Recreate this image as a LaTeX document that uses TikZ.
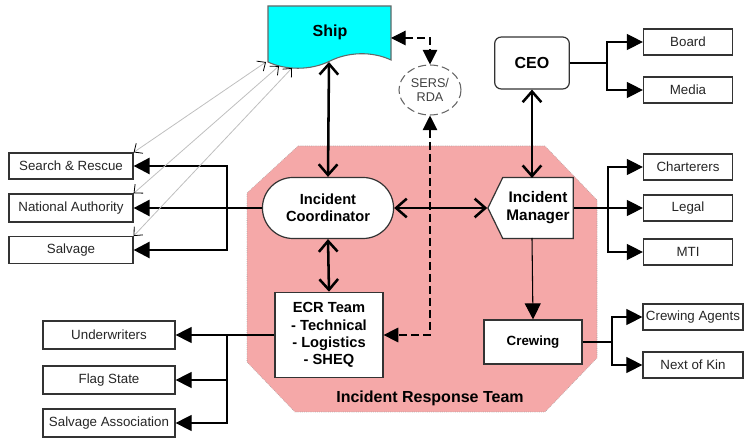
\documentclass[tikz,border=0pt]{standalone}
\usepackage{fontspec}
\setmainfont{Liberation Sans}
\usetikzlibrary{arrows.meta,shapes.geometric,shapes.symbols,shapes.misc}

\definecolor{shipcyan}{RGB}{0,255,255}
\definecolor{irtpink}{RGB}{245,168,168}

\tikzset{
  party/.style={draw=black!80, line width=0.9pt, fill=white, minimum width=66.75pt,
    minimum height=19.5pt, inner sep=1pt, text=black!85,
    font=\fontsize{10}{12}\selectfont},
  key/.style={draw=black!80, line width=0.9pt, fill=white, align=center,
    font=\bfseries\fontsize{11}{13}\selectfont},
  link/.style={line width=0.8pt, -{Triangle[length=12pt,width=12pt]}},
  hot/.style={line width=1.9pt, -{Triangle[length=12pt,width=12pt]}},
  both/.style={line width=1.9pt,
    {Straight Barb[length=8pt,width=14pt]}-{Straight Barb[length=8pt,width=14pt]}},
  radio/.style={line width=0.8pt, dash pattern=on 6pt off 3pt,
    {Triangle[length=11pt,width=11pt]}-{Triangle[length=11pt,width=11pt]}},
  sat/.style={draw=black!25, line width=0.6pt,
    {Straight Barb[length=5pt,width=9pt,color=black]}-{Straight Barb[length=5pt,width=9pt,color=black]}}
}

\begin{document}
\begin{tikzpicture}[x=0.75pt, y=-0.75pt]
\useasboundingbox (0,0) rectangle (744,441);

% incident response team area
\fill[irtpink, draw=black!40, densely dotted]
  (298,146) -- (545,146) -- (597,200) -- (597,358) -- (545,412)
  -- (295,412) -- (247,362) -- (247,193) -- cycle;
\node[font=\bfseries\fontsize{12}{14}\selectfont] (irt) at (430,398) {Incident Response Team};

% ship
\draw[draw=black!60, line width=0.8pt, fill=shipcyan]
  (268,6) -- (391,6) -- (391,60)
  .. controls (372,51) and (348,52) .. (330,61)
  .. controls (310,71) and (285,70) .. (268,62) -- cycle;
\node[font=\bfseries\fontsize{12}{14}\selectfont] (ship) at (330,32) {Ship};
\coordinate (shipS) at (329,62);
\coordinate (shipE) at (391,38);
\coordinate (shipA) at (266,62);
\coordinate (shipB) at (279,66);
\coordinate (shipC) at (292,68);

% SERS/RDA
\node[ellipse, draw=black!60, dash pattern=on 6pt off 3pt, line width=0.8pt,
  minimum width=46.5pt, minimum height=37.5pt, inner sep=0pt, align=center,
  text=black!75, font=\fontsize{9.5}{11}\selectfont] (sers) at (430,90) {SERS/\\RDA};

% management
\node[key, rounded corners=5pt, minimum width=56pt, minimum height=39pt,
  font=\bfseries\fontsize{12}{14}\selectfont] (ceo) at (532,63) {CEO};
\node[party] (board) at (688,42) {Board};
\node[party] (media) at (688,90) {Media};

% response team
\node[key, rounded rectangle, minimum width=105pt, minimum height=45.75pt]
  (coord) at (328,208) {Incident\\Coordinator};
\node[key, signal, signal to=west, signal from=nowhere, signal pointer angle=128,
  minimum width=64pt, minimum height=45.75pt, inner sep=1pt,
  font=\bfseries\fontsize{11.5}{13.5}\selectfont]
  (mgr) at (538,208) {Incident\\Manager};
\node[key, minimum width=81pt, minimum height=64pt, inner sep=2pt]
  (ecr) at (329,335) {ECR Team\\- Technical\\- Logistics\\- SHEQ};
\node[key, minimum width=73.5pt, minimum height=33pt,
  font=\bfseries\fontsize{10}{12}\selectfont] (crew) at (533,342) {Crewing};

% outside parties
\node[party, minimum width=93pt] (sar) at (71,166) {Search \& Rescue};
\node[party, minimum width=93pt, minimum height=21pt] (natauth) at (71,208) {National Authority};
\node[party, minimum width=93pt, minimum height=20pt] (salvage) at (71,250) {Salvage};
\node[party, minimum width=99pt, minimum height=21pt] (under) at (109,335) {Underwriters};
\node[party, minimum width=99pt, minimum height=21pt] (flag) at (109,380) {Flag State};
\node[party, minimum width=99pt, minimum height=21pt] (salvassoc) at (109,423) {Salvage Association};
\node[party] (charter) at (688,167) {Charterers};
\node[party] (legal) at (688,208) {Legal};
\node[party] (mti) at (688,252) {MTI};
\node[party, minimum width=75pt] (agents) at (693,317) {Crewing Agents};
\node[party, minimum width=75pt] (kin) at (693,365) {Next of Kin};

% forks
\coordinate (cfork) at (227,208);
\coordinate (efork) at (227,335);
\coordinate (ceofork) at (607,63);
\coordinate (mfork) at (608,208);
\coordinate (crfork) at (612,342);
\coordinate (mgrS) at (532,238);
\coordinate (mgrN) at (532,178);

% two way links
\draw[both] (coord.north) -- (shipS);
\draw[both] (coord.east) -- (mgr.west);
\draw[both] (mgrN) -- (ceo.south);
\draw[both] (coord.south) -- (ecr.north);
\draw[link] (mgrS) -- (crew.north);

% coordinator to shore
\draw[hot] (coord.west) -- (natauth.east);
\draw[hot] (cfork) |- (sar.east);
\draw[hot] (cfork) |- (salvage.east);

% ECR team
\draw[link] (ecr.west) -- (under.east);
\draw[link] (efork) |- (flag.east);
\draw[link] (efork) |- (salvassoc.east);

% CEO
\draw[line width=0.8pt] (ceo.east) -- (ceofork);
\draw[link] (ceofork) |- (board.west);
\draw[link] (ceofork) |- (media.west);

% manager
\draw[link] (mgr.east) -- (legal.west);
\draw[link] (mfork) |- (charter.west);
\draw[link] (mfork) |- (mti.west);

% crewing
\draw[line width=0.8pt] (crew.east) -- (crfork);
\draw[link] (crfork) |- (agents.west);
\draw[link] (crfork) |- (kin.west);

% SERS/RDA
\draw[radio] (shipE) -| (sers.north);
\draw[radio] (sers.south) |- (ecr.east);

% ship to shore parties
\draw[sat] (sar.north east) -- (shipA);
\draw[sat] (natauth.north east) -- (shipB);
\draw[sat] (salvage.north east) -- (shipC);

\end{tikzpicture}
\end{document}
